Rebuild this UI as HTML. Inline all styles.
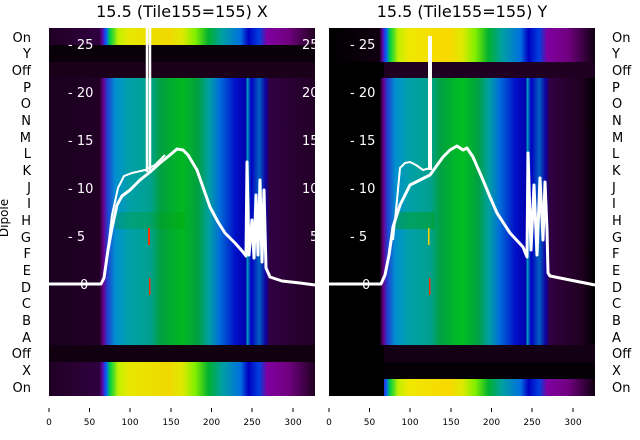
<!DOCTYPE html>
<html><head><meta charset="utf-8"><style>
body{margin:0;background:#fff;}
svg{display:block;font-family:"DejaVu Sans","Liberation Sans",sans-serif;}
</style></head><body>
<svg width="640" height="440" viewBox="0 0 640 440">
<defs>
<linearGradient id="mainL" x1="0" x2="1" y1="0" y2="0">
<stop offset="0" stop-color="#1a0020"/><stop offset="0.19" stop-color="#220026"/>
<stop offset="0.205" stop-color="#6a0090"/><stop offset="0.22" stop-color="#2040d0"/>
<stop offset="0.25" stop-color="#0090d0"/><stop offset="0.3" stop-color="#00a0a8"/>
<stop offset="0.38" stop-color="#00a090"/><stop offset="0.42" stop-color="#00a040"/>
<stop offset="0.5" stop-color="#00b820"/><stop offset="0.56" stop-color="#00a040"/>
<stop offset="0.6" stop-color="#00a0a0"/><stop offset="0.64" stop-color="#0070d8"/>
<stop offset="0.7" stop-color="#0010c8"/><stop offset="0.74" stop-color="#0000b0"/>
<stop offset="0.745" stop-color="#00a0c0"/><stop offset="0.76" stop-color="#0000c0"/>
<stop offset="0.79" stop-color="#0060c0"/><stop offset="0.815" stop-color="#1000a0"/>
<stop offset="0.83" stop-color="#300040"/><stop offset="1" stop-color="#220026"/>
</linearGradient>
<linearGradient id="mainR" x1="0" x2="1" y1="0" y2="0">
<stop offset="0" stop-color="#000"/><stop offset="0.19" stop-color="#000"/>
<stop offset="0.205" stop-color="#6a0090"/><stop offset="0.22" stop-color="#2040d0"/>
<stop offset="0.25" stop-color="#0090d0"/><stop offset="0.3" stop-color="#00a0a8"/>
<stop offset="0.38" stop-color="#00a090"/><stop offset="0.42" stop-color="#00a040"/>
<stop offset="0.5" stop-color="#00c020"/><stop offset="0.56" stop-color="#00a040"/>
<stop offset="0.6" stop-color="#00a0a0"/><stop offset="0.64" stop-color="#0070d8"/>
<stop offset="0.7" stop-color="#0010c8"/><stop offset="0.74" stop-color="#0000b0"/>
<stop offset="0.745" stop-color="#00a0c0"/><stop offset="0.76" stop-color="#0000c0"/>
<stop offset="0.79" stop-color="#0060c0"/><stop offset="0.815" stop-color="#1000a0"/>
<stop offset="0.83" stop-color="#300040"/><stop offset="0.95" stop-color="#200020"/><stop offset="1" stop-color="#000"/>
</linearGradient>
<linearGradient id="on" x1="0" x2="1" y1="0" y2="0">
<stop offset="0" stop-color="#200024"/><stop offset="0.19" stop-color="#300040"/>
<stop offset="0.2" stop-color="#6000a0"/><stop offset="0.215" stop-color="#0060ff"/>
<stop offset="0.23" stop-color="#00d040"/><stop offset="0.26" stop-color="#c0f000"/>
<stop offset="0.3" stop-color="#e8e800"/><stop offset="0.45" stop-color="#f0d800"/>
<stop offset="0.5" stop-color="#e0e800"/><stop offset="0.55" stop-color="#80f000"/>
<stop offset="0.6" stop-color="#00b030"/><stop offset="0.65" stop-color="#00a0a0"/>
<stop offset="0.72" stop-color="#0070e0"/><stop offset="0.75" stop-color="#0000c0"/>
<stop offset="0.79" stop-color="#0040e0"/><stop offset="0.82" stop-color="#8000a0"/>
<stop offset="0.9" stop-color="#700080"/><stop offset="1" stop-color="#200020"/>
</linearGradient>
<linearGradient id="onR" x1="0" x2="1" y1="0" y2="0">
<stop offset="0" stop-color="#000"/><stop offset="0.19" stop-color="#100010"/>
<stop offset="0.2" stop-color="#6000a0"/><stop offset="0.215" stop-color="#0060ff"/>
<stop offset="0.23" stop-color="#00d040"/><stop offset="0.26" stop-color="#c0f000"/>
<stop offset="0.3" stop-color="#f0e800"/><stop offset="0.45" stop-color="#f8d800"/>
<stop offset="0.5" stop-color="#e0e800"/><stop offset="0.55" stop-color="#80f000"/>
<stop offset="0.6" stop-color="#00b030"/><stop offset="0.65" stop-color="#00a0a0"/>
<stop offset="0.72" stop-color="#0070e0"/><stop offset="0.75" stop-color="#0000c0"/>
<stop offset="0.79" stop-color="#0040e0"/><stop offset="0.82" stop-color="#8000a0"/>
<stop offset="0.9" stop-color="#700080"/><stop offset="1" stop-color="#100010"/>
</linearGradient>
</defs>

<text x="182" y="17" font-size="16" text-anchor="middle">15.5 (Tile155=155) X</text>
<text x="462" y="17" font-size="16" text-anchor="middle">15.5 (Tile155=155) Y</text>

<rect x="49" y="28" width="266" height="17" fill="url(#on)"/>
<rect x="49" y="45" width="266" height="17" fill="#0a000a"/>
<rect x="49" y="62" width="266" height="16" fill="#1a0018"/>
<rect x="49" y="78" width="266" height="267" fill="url(#mainL)"/>
<rect x="49" y="345" width="266" height="17" fill="#100010"/>
<rect x="49" y="362" width="266" height="34" fill="url(#on)"/>
<rect x="115" y="212" width="70" height="17" fill="#00a000" opacity="0.25"/>
<rect x="148" y="228" width="2" height="17" fill="#ff3000"/>
<rect x="149" y="278" width="1.5" height="17" fill="#ff3000"/>

<rect x="329" y="28" width="266" height="34" fill="url(#onR)"/>
<rect x="329" y="62" width="266" height="16" fill="#200022"/>
<rect x="329" y="62" width="55" height="16" fill="#000"/>
<rect x="329" y="78" width="266" height="267" fill="url(#mainR)"/>
<rect x="329" y="345" width="266" height="17" fill="#140014"/>
<rect x="329" y="362" width="266" height="17" fill="#050005"/>
<rect x="329" y="379" width="266" height="17" fill="url(#onR)"/>
<rect x="329" y="345" width="55" height="51" fill="#000"/>
<rect x="395" y="212" width="40" height="17" fill="#00a000" opacity="0.4"/>
<rect x="428" y="228" width="1.5" height="17" fill="#ffd000"/>
<rect x="429" y="278" width="1.5" height="17" fill="#ff3000"/>

<g fill="#fff" font-size="13">
<text x="68" y="49">- 25</text><text x="68" y="97">- 20</text><text x="68" y="145">- 15</text>
<text x="68" y="193">- 10</text><text x="68" y="241">- 5</text><text x="80" y="289">0</text>
<text x="302" y="49">25</text><text x="302" y="97">20</text><text x="302" y="145">15</text>
<text x="302" y="193">10</text><text x="310" y="241">5</text>
<text x="350" y="49">- 25</text><text x="350" y="97">- 20</text><text x="350" y="145">- 15</text>
<text x="350" y="193">- 10</text><text x="350" y="241">- 5</text><text x="362" y="289">0</text>
</g>

<g fill="none" stroke="#fff" stroke-width="3" stroke-linejoin="round">
<polyline points="49,284 101,284 104,278 108,250 112,228 117,205 122,196 130,190 140,180 150,172 160,163 170,155 177,149 183,150 188,155 197,170 204,190 210,207 218,222 225,233 235,243 243,252 246,256 247,162 249,255 252,220 254,258 256,195 258,255 260,180 262,262 264,190 266,268 270,277 282,281 300,283 315,285"/>
<polyline points="106,265 112,215 118,188 124,176 132,173 145,170 155,165 165,155" stroke-width="2"/>
<polyline points="147,172 147,20 150,20 150,172" stroke-width="2.5"/>
</g>
<g fill="none" stroke="#fff" stroke-width="3" stroke-linejoin="round">
<polyline points="329,284 381,284 385,275 389,255 393,227 400,205 410,185 420,180 430,175 443,157 450,150 457,146 463,150 467,148 473,157 483,180 490,197 497,213 510,233 523,247 527,257 528,153 531,250 534,185 537,255 540,178 543,240 545,182 547,230 548,273 550,276 565,279 580,282 595,285"/>
<polyline points="393,240 397,200 400,168 405,163 410,162 416,165 423,170 430,168" stroke-width="2"/>
<polyline points="429,170 429,37 431,37 431,170" stroke-width="2"/>
</g>

<g font-size="13" fill="#000">
<g text-anchor="end">
<text x="31" y="42">On</text><text x="31" y="58">Y</text><text x="31" y="75">Off</text>
<text x="31" y="92">P</text><text x="31" y="108">O</text><text x="31" y="125">N</text>
<text x="31" y="142">M</text><text x="31" y="158">L</text><text x="31" y="175">K</text>
<text x="31" y="192">J</text><text x="31" y="208">I</text><text x="31" y="225">H</text>
<text x="31" y="242">G</text><text x="31" y="258">F</text><text x="31" y="275">E</text>
<text x="31" y="292">D</text><text x="31" y="308">C</text><text x="31" y="325">B</text>
<text x="31" y="342">A</text><text x="31" y="358">Off</text><text x="31" y="375">X</text>
<text x="31" y="392">On</text>
</g>
<g>
<text x="612" y="42">On</text><text x="612" y="58">Y</text><text x="612" y="75">Off</text>
<text x="612" y="92">P</text><text x="612" y="108">O</text><text x="612" y="125">N</text>
<text x="612" y="142">M</text><text x="612" y="158">L</text><text x="612" y="175">K</text>
<text x="612" y="192">J</text><text x="612" y="208">I</text><text x="612" y="225">H</text>
<text x="612" y="242">G</text><text x="612" y="258">F</text><text x="612" y="275">E</text>
<text x="612" y="292">D</text><text x="612" y="308">C</text><text x="612" y="325">B</text>
<text x="612" y="342">A</text><text x="612" y="358">Off</text><text x="612" y="375">X</text>
<text x="612" y="392">On</text>
</g>
<text transform="translate(8,218) rotate(-90)" text-anchor="middle" font-size="12">Dipole</text>
</g>

<g stroke="#000" stroke-width="1">
<line x1="49" y1="408" x2="49" y2="412"/><line x1="89.5" y1="408" x2="89.5" y2="412"/>
<line x1="130" y1="408" x2="130" y2="412"/><line x1="171" y1="408" x2="171" y2="412"/>
<line x1="211.5" y1="408" x2="211.5" y2="412"/><line x1="252" y1="408" x2="252" y2="412"/>
<line x1="293" y1="408" x2="293" y2="412"/>
<line x1="329" y1="408" x2="329" y2="412"/><line x1="369.5" y1="408" x2="369.5" y2="412"/>
<line x1="410" y1="408" x2="410" y2="412"/><line x1="451" y1="408" x2="451" y2="412"/>
<line x1="491.5" y1="408" x2="491.5" y2="412"/><line x1="532" y1="408" x2="532" y2="412"/>
<line x1="573" y1="408" x2="573" y2="412"/>
</g>
<g font-size="9" text-anchor="middle">
<text x="49" y="425">0</text><text x="89.5" y="425">50</text><text x="130" y="425">100</text>
<text x="171" y="425">150</text><text x="211.5" y="425">200</text><text x="252" y="425">250</text>
<text x="293" y="425">300</text>
<text x="329" y="425">0</text><text x="369.5" y="425">50</text><text x="410" y="425">100</text>
<text x="451" y="425">150</text><text x="491.5" y="425">200</text><text x="532" y="425">250</text>
<text x="573" y="425">300</text>
</g>
</svg>
</body></html>
